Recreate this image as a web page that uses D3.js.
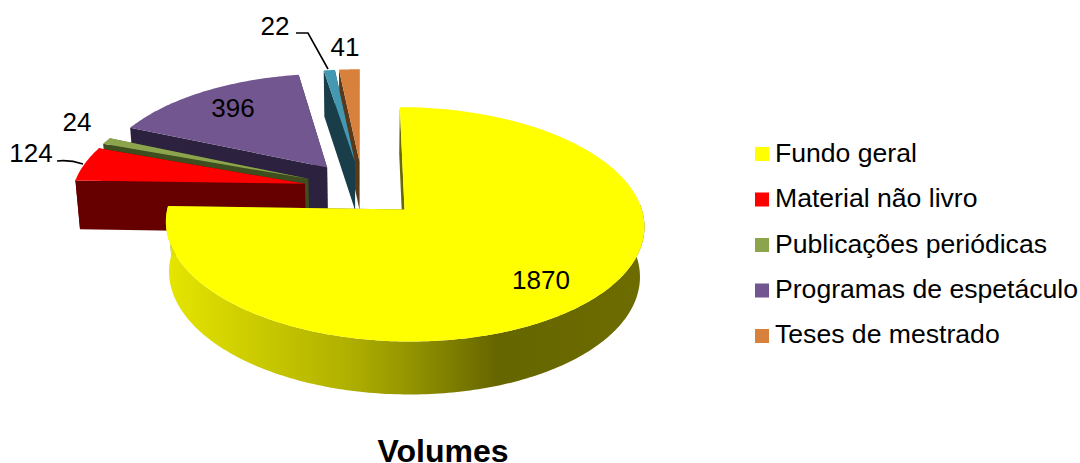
<!DOCTYPE html>
<html><head><meta charset="utf-8">
<script src="https://cdn.jsdelivr.net/npm/d3@7"></script>
<style>html,body{margin:0;padding:0;background:#fff}svg{display:block}text{font-family:"Liberation Sans",Arial,sans-serif;fill:#000}</style>
</head><body><div id="c"></div>
<script>
const values = [1870,124,24,396,22,41];
const topColors = ["#ffff00","#ff0000","#8ca54c","#72568f","#4498b2","#d7813d"];
const wallColors = ["#6a6a00","#660000","#3f4e1f","#2d2140","#1a3d4a","#5a381a"];
const legendColors = ["#ffff00","#ff0000","#8ca54c","#72568f","#d7813d"];
const legendNames = ["Fundo geral","Material não livro","Publicações periódicas","Programas de espetáculo","Teses de mestrado"];
const title = "Volumes";

const W=1080,H=463;
const svg=d3.select("#c").append("svg").attr("width",W).attr("height",H);
const R=232, explode=59, P=0.123, KY=0.475, VX=362.5, VY=189, SHRINK=0.984;
const project=(X,Y)=>{const w=1+P*Y/R;return [VX+X/w,VY-KY*Y/w,w];};
const lower=([x,y,w])=>[VX+(x-VX)*SHRINK,y+25.7+23.3/w];
const pie=d3.pie().value(d=>d).sort(null)(values);
const line=d3.line();
const arcs=pie.map((p,i)=>{
  const mid=(p.startAngle+p.endAngle)/2;
  const ox=explode*Math.sin(mid), oy=explode*Math.cos(mid);
  const at=(a,r)=>project(ox+r*Math.sin(a),oy+r*Math.cos(a));
  const n=Math.max(4,Math.ceil((p.endAngle-p.startAngle)*60));
  const angles=d3.range(n+1).map(k=>p.startAngle+(p.endAngle-p.startAngle)*k/n);
  return {i,apex:at(0,0),outer:angles.map(a=>at(a,R)),
          front:angles.filter(a=>Math.cos(a)<0.06).map(a=>at(a,R))};
});

const defs=svg.append("defs");
const g=defs.append("linearGradient").attr("id","ywall").attr("gradientUnits","userSpaceOnUse")
  .attr("x1",165).attr("x2",645).attr("y1",0).attr("y2",0);
[[0,"#e6e600"],[0.18,"#cccc00"],[0.38,"#b0b000"],[0.5,"#969600"],[0.69,"#666600"],[1,"#6c6c00"]]
  .forEach(([o,c])=>g.append("stop").attr("offset",o).attr("stop-color",c));

const xy=d=>d.slice(0,2);
[5,4,3,2,1,0].forEach(i=>{
  const a=arcs[i];
  const first=a.outer[0], last=a.outer[a.outer.length-1];
  const wall=i===0?"url(#ywall)":wallColors[i];
  const flat=wallColors[i];
  [[a.apex,first],[a.apex,last]].forEach(([p,q])=>{
    svg.append("path").attr("d",line([p,q,lower(q),lower(p)].map(xy))+"Z")
      .attr("fill",flat);
  });
  if(a.front.length>1){
    svg.append("path").attr("d",line(a.front.map(xy).concat(a.front.map(lower).reverse()))+"Z")
      .attr("fill",wall);
  }
  svg.append("path").attr("d",line([xy(a.apex)].concat(a.outer.map(xy)))+"Z")
    .attr("fill",topColors[i]);
});

const leaders=["M57,161C66,160 74,161 83,164","M296,33L308,33L328,69"];
leaders.forEach(d=>svg.append("path").attr("d",d).attr("fill","none").attr("stroke","#000").attr("stroke-width",1.6));
const labels=[[values[0],541,280],[values[1],31,153],[values[2],77,122],[values[3],233,108],[values[4],275,26],[values[5],345,47]];
labels.forEach(([t,x,y])=>svg.append("text").attr("x",x).attr("y",y).attr("text-anchor","middle").attr("dominant-baseline","central").attr("font-size",26).text(t));

const swatchY=d3.scalePoint().domain(legendNames).range([154,336]);
const textY=d3.scalePoint().domain(legendNames).range([153,334]);
legendNames.forEach((n,i)=>{
  svg.append("rect").attr("x",755).attr("y",swatchY(n)-7).attr("width",14).attr("height",14).attr("fill",legendColors[i]);
  svg.append("text").attr("x",775).attr("y",textY(n)).attr("dominant-baseline","central").attr("font-size",26.6).text(n);
});
svg.append("text").attr("x",443).attr("y",451).attr("text-anchor","middle").attr("dominant-baseline","central").attr("font-size",32).attr("font-weight","bold").text(title);
</script></body></html>
